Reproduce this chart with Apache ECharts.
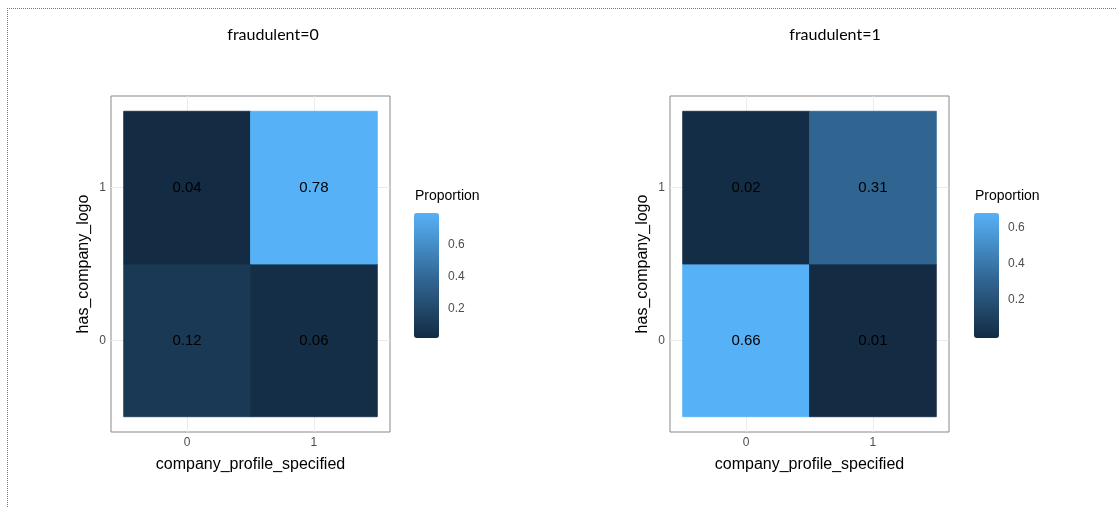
<!DOCTYPE html>
<html>
<head>
<meta charset="utf-8">
<script src="https://cdn.jsdelivr.net/npm/echarts@6/dist/echarts.min.js"></script>
<style>html,body{margin:0;padding:0;background:#fff}#c{width:1117px;height:507px}</style>
</head>
<body>
<div id="c"></div>
<script>
// ---- data ----
const panelTitles = ['fraudulent=0', 'fraudulent=1'];
const xTicks = [0, 1];           // company_profile_specified
const yTicks = [0, 1];           // has_company_logo
const xTickLabels = ['0', '1'];
const yTickLabels = ['0', '1'];
// [company_profile_specified, has_company_logo, proportion]
const panel0 = [[0, 0, 0.12], [1, 0, 0.06], [0, 1, 0.04], [1, 1, 0.78]];
const panel1 = [[0, 0, 0.66], [1, 0, 0.01], [0, 1, 0.02], [1, 1, 0.31]];
const legendTicks = [0.2, 0.4, 0.6];
const xName = 'company_profile_specified';
const yName = 'has_company_logo';
const legendTitle = 'Proportion';

const panels = [panel0, panel1];
const gradient = ['#132B43', '#336A98', '#56B1F7'];
const font = 'Liberation Sans, Arial, sans-serif';

const chart = echarts.init(document.getElementById('c'), null, {renderer: 'canvas'});

const grids = [], xAxes = [], yAxes = [], series = [], visualMaps = [], titles = [];
const panelLeft = [111, 670];
const legLeft = [414, 974];
const legRange = [[0.02, 0.80], [-0.01, 0.68]];

panels.forEach((data, i) => {
  const vals = data.map(d => d[2]);
  const vmin = Math.min(...vals), vmax = Math.max(...vals);
  // main panel grid
  grids.push({left: panelLeft[i], top: 96, width: 279, height: 336, show: true,
    borderColor: '#888', borderWidth: 1, backgroundColor: '#fff'});
  const gi = grids.length - 1;
  xAxes.push({type: 'value', gridIndex: gi, min: -0.6, max: 1.6,
    axisLine: {show: false},
    axisTick: {show: true, length: 4, lineStyle: {color: '#333'}, customValues: xTicks},
    axisLabel: {show: true, color: '#4d4d4d', fontSize: 12, fontFamily: font, margin: 5,
      customValues: xTicks, formatter: v => xTickLabels[xTicks.indexOf(v)]},
    splitLine: {show: true, lineStyle: {color: '#ebebeb', width: 1}},
    name: xName, nameLocation: 'middle', nameGap: 25,
    nameTextStyle: {fontSize: 16, color: '#000', fontFamily: font}});
  yAxes.push({type: 'value', gridIndex: gi, min: -0.6, max: 1.6,
    axisLine: {show: false},
    axisTick: {show: true, length: 4, lineStyle: {color: '#333'}, customValues: yTicks},
    axisLabel: {show: true, color: '#4d4d4d', fontSize: 12, fontFamily: font, margin: 5,
      customValues: yTicks, formatter: v => yTickLabels[yTicks.indexOf(v)]},
    splitLine: {show: true, lineStyle: {color: '#ebebeb', width: 1}},
    name: yName, nameLocation: 'middle', nameGap: 19,
    nameTextStyle: {fontSize: 16, color: '#000', fontFamily: font}});
  const ai = xAxes.length - 1;
  series.push({
    type: 'custom', xAxisIndex: ai, yAxisIndex: ai, data: data,
    encode: {x: 0, y: 1},
    renderItem: (params, api) => {
      const x = api.value(0), y = api.value(1), v = api.value(2);
      const p1 = api.coord([x - 0.5, y + 0.5]);
      const p2 = api.coord([x + 0.5, y - 0.5]);
      const c = api.coord([x, y]);
      const col = api.visual('color');
      return {type: 'group', children: [
        {type: 'rect', shape: {x: p1[0], y: p1[1], width: p2[0] - p1[0], height: p2[1] - p1[1]},
          style: {fill: col, stroke: col, lineWidth: 0.8}},
        {type: 'text', x: c[0], y: c[1], style: {text: v.toFixed(2), fill: '#000',
          font: '15px ' + font, align: 'center', verticalAlign: 'middle'}}
      ]};
    }
  });
  const si = series.length - 1;
  visualMaps.push({type: 'continuous', seriesIndex: si, dimension: 2, min: vmin, max: vmax,
    inRange: {color: gradient}, calculable: false, hoverLink: false,
    left: legLeft[i], top: 213, itemWidth: 25, itemHeight: 125, padding: 0,
    text: ['', ''], textGap: 0, showLabel: false});
  // legend axis grid
  grids.push({left: legLeft[i], top: 213, width: 25, height: 125, show: false});
  const lg = grids.length - 1;
  xAxes.push({type: 'value', gridIndex: lg, show: false});
  yAxes.push({type: 'value', gridIndex: lg, position: 'right', min: legRange[i][0], max: legRange[i][1],
    axisLine: {show: false}, splitLine: {show: false},
    axisTick: {show: true, inside: true, length: 5, lineStyle: {color: '#ffffff', opacity: 0.6}, customValues: legendTicks},
    axisLabel: {show: true, color: '#4d4d4d', fontSize: 12, fontFamily: font, margin: 9,
      customValues: legendTicks, formatter: v => v.toFixed(1)}});
  xAxes.push({type: 'value', gridIndex: lg, show: false});
  yAxes.push({type: 'value', gridIndex: lg, position: 'left', min: legRange[i][0], max: legRange[i][1],
    axisLine: {show: false}, splitLine: {show: false}, axisLabel: {show: false},
    axisTick: {show: true, inside: true, length: 5, lineStyle: {color: '#ffffff', opacity: 0.6}, customValues: legendTicks}});
  titles.push({text: panelTitles[i], left: [268, 830][i], top: 22, textAlign: 'center',
    textStyle: {fontFamily: 'Lato, Noto Sans, sans-serif', fontSize: 16, fontWeight: 'normal', color: '#000'}});
  titles.push({text: legendTitle, left: legLeft[i] + 1, top: 189,
    textStyle: {fontFamily: font, fontSize: 14, fontWeight: 'normal', color: '#000'}, padding: 0});
});

chart.setOption({
  animation: false,
  backgroundColor: '#fff',
  title: titles,
  grid: grids, xAxis: xAxes, yAxis: yAxes,
  visualMap: visualMaps,
  series: series,
  graphic: [
    {type: 'line', shape: {x1: 7, y1: 8.5, x2: 1117, y2: 8.5}, style: {stroke: '#777', lineWidth: 1, lineDash: [1, 1]}},
    {type: 'line', shape: {x1: 7.5, y1: 8, x2: 7.5, y2: 507}, style: {stroke: '#777', lineWidth: 1, lineDash: [1, 1]}}
  ]
});
</script>
</body>
</html>
